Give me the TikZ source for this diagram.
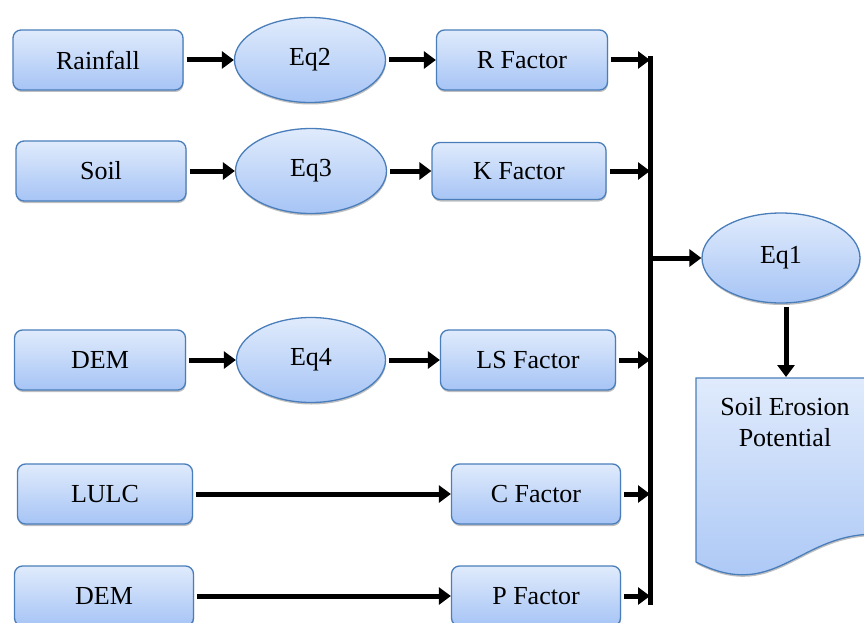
\documentclass[tikz,border=0pt]{standalone}
\usepackage{fontspec}
\setmainfont{Liberation Serif}
\usetikzlibrary{shapes.geometric,arrows.meta,shadows}
\definecolor{boxline}{HTML}{4A7EBB}
\definecolor{boxtop}{HTML}{E0EBFC}
\definecolor{boxbot}{HTML}{A6C4F5}
\tikzset{
    flowfill/.style={draw=boxline,line width=1.3pt,top color=boxtop,bottom color=boxbot,
        drop shadow={shadow xshift=0.5pt,shadow yshift=-2pt,opacity=0.25,fill=black}},
    inbox/.style={flowfill,rounded corners=8pt,inner sep=0pt,minimum height=60pt},
    eqn/.style={flowfill,ellipse,inner sep=0pt,minimum width=151pt,minimum height=85pt},
    arr/.style={line width=5pt,shorten <=3pt,-{Triangle[length=12pt,width=17pt]}}
}
\begin{document}
\begin{tikzpicture}[x=1pt,y=-1pt,every node/.style={font=\fontsize{26}{31}\selectfont}]
    \clip (0,0) rectangle (864,623);
    \node[inbox,minimum width=170pt]  (rain)  at (98,60)   {Rainfall};
    \node[eqn]                        (eqtwo) at (310,60)  {Eq2};
    \node[inbox,minimum width=171pt]  (rfac)  at (522,60)  {R Factor};
    \node[inbox,minimum width=170pt]  (soil)  at (101,171) {Soil};
    \node[eqn]                        (eqthree) at (311,171) {Eq3};
    \node[inbox,minimum width=174pt,minimum height=57pt] (kfac) at (519,171) {K Factor};
    \node[inbox,minimum width=171pt]  (dem)   at (100,360) {DEM};
    \node[eqn,minimum width=149pt]    (eqfour) at (311,360) {Eq4};
    \node[inbox,minimum width=175pt]  (lsfac) at (528,360) {LS Factor};
    \node[inbox,minimum width=175pt]  (lulc)  at (105,494) {LULC};
    \node[inbox,minimum width=169pt]  (cfac)  at (536,494) {C Factor};
    \node[inbox,minimum width=179pt]  (demb)  at (104,596) {DEM};
    \node[inbox,minimum width=169pt]  (pfac)  at (536,596) {P Factor};
    \node[eqn,minimum width=158pt,minimum height=90pt] (eqone) at (781,258) {Eq1};
    % output document
    \draw[flowfill] (696,378) -- (890,378) -- (890,535) .. controls (800,525) and (780,605) .. (696,562) -- cycle;
    \node[align=center] (erosion) at (785,422) {Soil Erosion\\Potential};
    \coordinate (bustop) at (650,56);
    \coordinate (busbot) at (650,605);
    \coordinate (doctop) at (786,377);
    \begin{scope}[every path/.style={arr}]
        \draw (rain) -- (eqtwo);
        \draw (eqtwo) -- (rfac);
        \draw (soil) -- (eqthree);
        \draw (eqthree) -- (kfac);
        \draw (dem) -- (eqfour);
        \draw (eqfour) -- (lsfac);
        \draw (lulc) -- (cfac);
        \draw (demb) -- (pfac);
        \draw (rfac) -- (rfac -| bustop);
        \draw (kfac) -- (kfac -| bustop);
        \draw (lsfac) -- (lsfac -| bustop);
        \draw (cfac) -- (cfac -| bustop);
        \draw (pfac) -- (pfac -| bustop);
        \draw[shorten <=0pt] (eqone -| bustop) -- (eqone);
        \draw (eqone.south -| doctop) -- (doctop);
    \end{scope}
    \draw[line width=5pt] (bustop) -- (busbot);
\end{tikzpicture}
\end{document}
